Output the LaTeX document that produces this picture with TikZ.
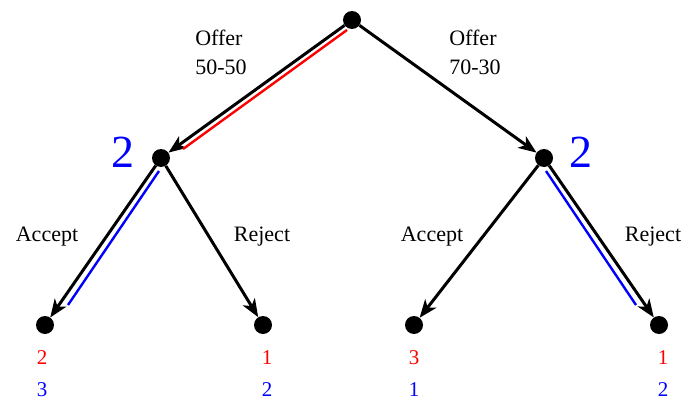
\documentclass[tikz,border=0pt]{standalone}
\usepackage{fontspec}
\setmainfont{Liberation Serif}
\usetikzlibrary{arrows.meta,calc}
\tikzset{
  dot/.style={circle,fill=black,inner sep=0pt,minimum size=18pt},
  move/.style={line width=3pt,-{Stealth[length=18pt,width=14pt,inset=5pt]}},
  path/.style={line width=2.4pt},
  lbl/.style={font=\fontsize{22}{25}\selectfont},
  pay/.style={font=\fontsize{21}{24}\selectfont},
  who/.style={font=\fontsize{46}{46}\selectfont}
}
\begin{document}
\begin{tikzpicture}[x=1pt,y=-1pt]
    \clip (0,0) rectangle (696,412);
    \useasboundingbox (0,0) rectangle (696,412);
    % decision nodes
    \node[dot] (root) at (352,20) {};
    \node[dot] (l) at (161,158) {};
    \node[dot] (r) at (544,158) {};
    \node[dot] (ll) at (45,325) {};
    \node[dot] (lr) at (263,325) {};
    \node[dot] (rl) at (414,325) {};
    \node[dot] (rr) at (659,325) {};
    % players
    \node[who,red] (p1) at (352,-18) {1};
    \node[who,blue] (p2l) at (123,152) {2};
    \node[who,blue] (p2r) at (581,152) {2};
    % moves
    \draw[move] (root) -- (l);
    \draw[move] (root) -- (r);
    \draw[move] (l) -- (ll);
    \draw[move] (l) -- (lr);
    \draw[move] (r) -- (rl);
    \draw[move] (r) -- (rr);
    % equilibrium path
    \draw[red,path] ($(root)+(-5,10)$) -- ($(l)+(22,-9)$);
    \draw[blue,path] ($(l)+(-2,13)$) -- ($(ll)+(23,-20)$);
    \draw[blue,path] ($(r)+(2,13)$) -- ($(rr)+(-23,-20)$);
    % labels
    \node[lbl,align=left] (o1) at (221,52) {Offer\\[4pt]50-50};
    \node[lbl,align=left] (o2) at (475,52) {Offer\\[4pt]70-30};
    \node[lbl] (a1) at (47,237) {Accept};
    \node[lbl] (r1) at (262,237) {Reject};
    \node[lbl] (a2) at (432,237) {Accept};
    \node[lbl] (r2) at (653,237) {Reject};
    % payoffs
    \node[pay,red] at (42,358) {2};
    \node[pay,blue] at (42,390) {3};
    \node[pay,red] at (267,358) {1};
    \node[pay,blue] at (267,390) {2};
    \node[pay,red] at (414,358) {3};
    \node[pay,blue] at (414,390) {1};
    \node[pay,red] at (663,358) {1};
    \node[pay,blue] at (663,390) {2};
\end{tikzpicture}
\end{document}
